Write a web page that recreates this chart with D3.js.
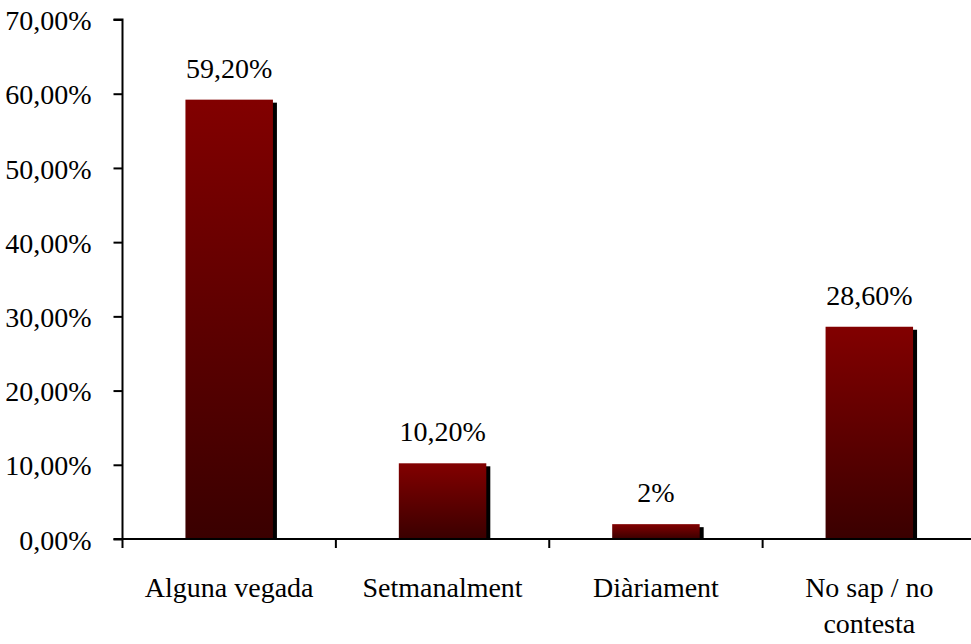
<!DOCTYPE html>
<html><head><meta charset="utf-8">
<script src="https://cdn.jsdelivr.net/npm/d3@7"></script>
<style>body{margin:0;background:#fff;font-family:'Liberation Serif',serif}svg{display:block}</style>
</head><body><svg id="c" width="971" height="644" font-family="Liberation Serif"></svg>
<script>
const categories = ["Alguna vegada", "Setmanalment", "Diàriament", "No sap / no contesta"];
const values = [59.2, 10.2, 2, 28.6];
const valueLabels = ["59,20%", "10,20%", "2%", "28,60%"];
const yTicks = [0, 10, 20, 30, 40, 50, 60, 70];
const yTickLabels = ["0,00%", "10,00%", "20,00%", "30,00%", "40,00%", "50,00%", "60,00%", "70,00%"];

(function () {
const FONT = "Liberation Serif";
const FS = 28;
const svg = d3.select("#c");
const pL = 122.5, pR = 976, pT = 19.5, pB = 539;
const x = d3.scaleBand().domain(categories).range([pL, pR]).paddingInner(0).paddingOuter(0);
const y = d3.scaleLinear().domain([0, 70]).range([pB, pT]);

const defs = svg.append("defs");
const g = defs.append("linearGradient").attr("id", "grad").attr("x1", 0).attr("y1", 0).attr("x2", 0).attr("y2", 1);
g.append("stop").attr("offset", 0).attr("stop-color", "#820000");
g.append("stop").attr("offset", 1).attr("stop-color", "#3a0000");

const bw = x.bandwidth() * 0.41;
const bars = svg.append("g");
categories.forEach((c, i) => {
  const cx = x(c) + x.bandwidth() / 2;
  const bx = cx - bw / 2;
  bars.append("rect").attr("x", bx + 4).attr("y", y(values[i]) + 3)
    .attr("width", bw).attr("height", pB - y(values[i]) - 3).attr("fill", "#000");
  bars.append("rect").attr("x", bx).attr("y", y(values[i]))
    .attr("width", bw).attr("height", pB - y(values[i])).attr("fill", "url(#grad)");
  svg.append("text").attr("x", cx).attr("y", y(values[i]) - 22)
    .attr("text-anchor", "middle").attr("font-family", FONT).attr("font-size", FS).attr("fill", "#000").text(valueLabels[i]);
});

const yAxis = d3.axisLeft(y).tickValues(yTicks).tickFormat((d, i) => yTickLabels[i]).tickSize(9).tickPadding(22);
const ya = svg.append("g").attr("transform", `translate(${pL},0)`).call(yAxis);
ya.attr("font-family", FONT).attr("font-size", FS);
ya.selectAll("path,line").attr("stroke", "#000").attr("stroke-width", 2);
ya.select(".domain").attr("d", `M-9,${pT}H0V${pB}`);
ya.selectAll("text").attr("font-family", FONT).attr("font-size", FS).attr("fill", "#000").attr("dy", "0.36em");

const xTickPos = d3.range(categories.length + 1).map(i => pL + i * x.bandwidth());
const xg = svg.append("g");
xg.append("line").attr("x1", pL - 9).attr("x2", pR).attr("y1", pB).attr("y2", pB).attr("stroke", "#000").attr("stroke-width", 2);
xTickPos.forEach(p => xg.append("line").attr("x1", p).attr("x2", p).attr("y1", pB).attr("y2", pB + 9).attr("stroke", "#000").attr("stroke-width", 2));
categories.forEach(c => {
  const cx = x(c) + x.bandwidth() / 2;
  const words = c === "No sap / no contesta" ? ["No sap / no", "contesta"] : [c];
  const t = xg.append("text").attr("text-anchor", "middle").attr("font-family", FONT).attr("font-size", FS).attr("fill", "#000");
  words.forEach((w, k) => t.append("tspan").attr("x", cx).attr("y", 597 + k * 36).text(w));
});
})();
</script></body></html>
